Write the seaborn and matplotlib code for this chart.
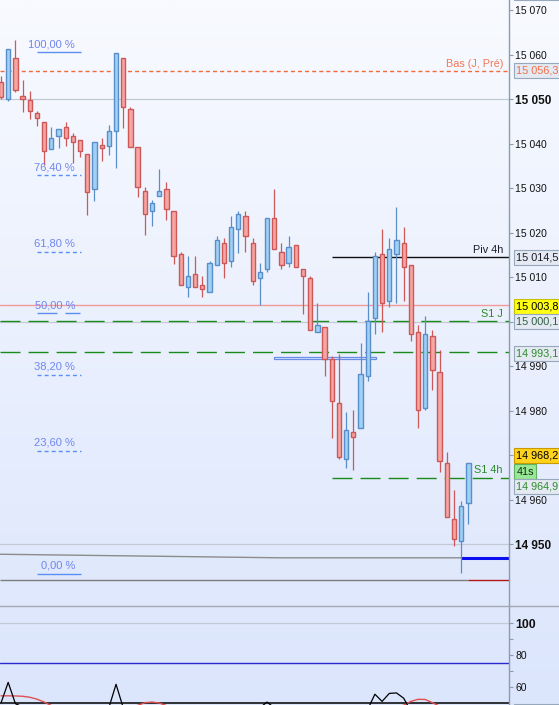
import numpy as np
import pandas as pd
import matplotlib
matplotlib.use("Agg")
import matplotlib.pyplot as plt
import matplotlib.transforms as mtrans
from matplotlib.patches import Rectangle
from matplotlib.lines import Line2D
import seaborn as sns

# ---------------- data ----------------
opens = [15053.8, 15050.0, 15059.2, 15050.7, 15049.8, 15046.9, 15044.8, 15038.8, 15041.7, 15043.7,
         15041.7, 15040.8, 15037.6, 15029.8, 15039.7, 15039.4, 15042.8, 15059.2, 15047.8, 15039.2,
         15029.3, 15024.8, 15028.2, 15029.8, 15024.8, 15015.2, 15007.8, 15010.7, 15008.2, 15006.6,
         15012.7, 15017.6, 15013.6, 15020.8, 15023.7, 15017.6, 15009.8, 15011.8, 15023.3, 15015.6,
         15013.1, 15017.2, 15011.8, 15009.8, 14997.6, 14998.8, 14991.6, 14981.7, 14969.1, 14975.2,
         14976.1, 14987.8, 15000.8, 15015.2, 15004.6, 15015.2, 15017.6, 15012.7, 14997.6, 14980.6,
         14996.7, 14988.7, 14968.2, 14955.6, 14950.7, 14959.2]
closes = [15050.4, 15061.2, 15052.0, 15050.0, 15047.3, 15045.7, 15038.3, 15041.2, 15043.3, 15041.2,
          15040.3, 15038.3, 15029.1, 15040.3, 15039.0, 15042.8, 15060.3, 15048.2, 15039.2, 15030.2,
          15024.2, 15026.6, 15029.3, 15025.3, 15014.7, 15008.2, 15010.2, 15007.8, 15007.3, 15013.1,
          15018.3, 15013.1, 15021.2, 15024.2, 15019.2, 15009.1, 15011.1, 15023.3, 15016.3, 15012.7,
          15016.7, 15012.3, 15010.2, 14998.1, 14999.2, 14991.6, 14982.1, 14969.6, 14975.6, 14974.0,
          14988.2, 15000.1, 15014.7, 15004.2, 15016.3, 15018.3, 15012.3, 14997.2, 14980.1, 14997.2,
          14989.1, 14968.7, 14956.1, 14951.1, 14958.5, 14968.2]
highs = [15055.2, 15061.3, 15063.3, 15054.3, 15051.8, 15047.3, 15044.8, 15043.7, 15043.3, 15044.8,
         15042.4, 15040.8, 15037.6, 15040.3, 15041.2, 15044.2, 15060.3, 15059.2, 15048.2, 15039.2,
         15030.2, 15027.3, 15034.3, 15031.3, 15024.8, 15015.6, 15014.7, 15014.7, 15010.2, 15013.6,
         15019.2, 15018.8, 15023.7, 15024.8, 15024.8, 15018.8, 15013.1, 15023.3, 15029.8, 15017.6,
         15019.2, 15017.2, 15011.8, 15010.2, 15004.2, 14998.8, 14992.2, 14992.7, 14979.7, 14980.1,
         14995.2, 15006.6, 15015.6, 15020.8, 15018.8, 15025.7, 15021.2, 15012.7, 14999.2, 15001.2,
         14998.1, 14993.6, 14970.7, 14962.1, 14959.7, 14968.2]
lows = [15050.0, 15049.6, 15051.5, 15047.1, 15045.5, 15043.9, 15035.2, 15038.8, 15039.0, 15039.4,
        15035.6, 15037.0, 15023.9, 15027.1, 15036.1, 15037.4, 15034.5, 15043.5, 15039.2, 15028.0,
        15019.4, 15021.5, 15028.2, 15022.8, 15012.9, 15008.2, 15005.5, 15007.8, 15005.5, 15006.6,
        15012.7, 15009.8, 15012.3, 15015.4, 15015.6, 15008.2, 15003.7, 15011.1, 15016.3, 15011.8,
        15012.3, 15012.3, 15001.7, 14998.1, 14997.6, 14987.8, 14973.8, 14969.1, 14967.1, 14966.6,
        14976.1, 14986.6, 14997.2, 14997.6, 15003.3, 15004.2, 15004.6, 14995.6, 14976.1, 14980.1,
        14984.6, 14966.2, 14956.1, 14949.6, 14943.5, 14954.5]

osc_k = [50.0, 62.9, 49.6, 47.5, 44.0, 40.0, 35.0, 33.0, 36.0, 38.0,
         37.0, 35.0, 30.0, 38.0, 42.0, 47.0, 61.7, 47.0, 40.0, 32.0,
         28.0, 30.0, 33.0, 31.0, 25.0, 22.0, 24.0, 26.0, 25.0, 30.0,
         36.0, 38.0, 42.0, 45.0, 46.0, 44.0, 47.0, 50.6, 47.0, 43.0,
         44.0, 42.0, 38.0, 32.0, 30.0, 26.0, 20.0, 15.0, 18.0, 19.0,
         28.0, 46.0, 55.5, 51.0, 56.0, 56.3, 53.0, 45.0, 38.0, 42.0,
         36.0, 26.0, 18.0, 14.0, 20.0, 30.0]
osc_d = [54.5, 54.5, 54.4, 54.2, 53.6, 52.4, 50.6, 48.4, 46.0, 43.5,
         41.0, 40.0, 39.0, 38.5, 40.0, 42.0, 44.5, 46.5, 47.5, 48.5,
         50.2, 50.6, 50.0, 48.4, 45.0, 41.0, 37.0, 33.0, 30.0, 28.5,
         29.0, 31.0, 34.0, 37.0, 40.0, 42.0, 43.5, 45.0, 46.0, 46.0,
         45.0, 44.0, 42.0, 39.0, 35.0, 31.0, 27.0, 23.0, 20.0, 19.0,
         21.0, 27.0, 34.0, 40.0, 45.0, 47.5, 48.6, 51.0, 52.3, 52.2,
         50.2, 48.0, 44.0, 38.0, 31.0, 26.0]

price_ticks = [15070, 15060, 15050, 15040, 15030, 15020, 15010, 15000, 14990, 14980, 14970, 14960, 14950]
hidden_tick_labels = [15000, 14970]   # covered by value boxes in the reference
bold_ticks = [15050, 15000, 14950]
osc_ticks = [60, 70, 80, 90, 100]
osc_tick_labels = ["60", "", "80", "", "100"]

fib_pcts = [100.0, 76.4, 61.8, 50.0, 38.2, 23.6, 0.0]
fib_labels = ["100,00 %", "76,40 %", "61,80 %", "50,00 %", "38,20 %", "23,60 %", "0,00 %"]
fib_high = 15060.5
fib_low = 14943.3

bas_j_pre = 15056.3
piv_4h = 15014.5
level_pink = 15003.8
s1_j = 15000.1
level_green2 = 14993.1
s1_4h = 14964.9
last_price = 14968.2
blue_level = 14946.9
red_level = 14941.9
trend_x = [-0.14, 38.8, 63.98]
trend_y = [14947.7, 14946.9, 14946.9]
zone_x = [38.0, 52.2]
zone_y = [14991.5, 14991.95]
osc_levels = [100, 75, 50]
countdown = "41s"

# ---------------- style ----------------
sns.set_theme(style="white")
plt.rcParams['font.family'] = ['Liberation Sans', 'DejaVu Sans']
plt.rcParams['lines.scale_dashes'] = False

W, H = 559, 705
fig = plt.figure(figsize=(W / 100, H / 100), dpi=100)

# background gradient
bg = fig.add_axes([0, 0, 1, 1], zorder=-10)
top = np.array([248, 250, 255]) / 255
bot = np.array([219, 229, 252]) / 255
t = np.linspace(0, 1, 256)[:, None]
grad = (top[None, :] * (1 - t) + bot[None, :] * t)[:, None, :]
bg.imshow(grad, extent=[0, 1, 0, 1], aspect='auto', origin='upper')
bg.axis('off')

XR = 509
main_bottom = 606
ax = fig.add_axes([0, 1 - main_bottom / H, XR / W, main_bottom / H])
ax2 = fig.add_axes([0, 0, XR / W, (H - main_bottom) / H])
for a in (ax, ax2):
    a.patch.set_alpha(0)
    for s in ('top', 'left', 'bottom'):
        a.spines[s].set_visible(False)
    a.spines['right'].set_color('#8c9cb0')
    a.spines['right'].set_linewidth(1.0)
    a.set_xticks([])
    a.yaxis.tick_right()
    a.tick_params(axis='y', direction='out', length=2.6, width=0.8, colors='#8c9cb0',
                  labelcolor='#111111', labelsize=7.5, pad=2)

xlim = (-0.139, 70.65)
ax.set_xlim(*xlim)
ax.set_ylim(14936.07, 15072.25)
ax2.set_xlim(*xlim)
ax2.set_ylim(48.75, 110.625)

# gridlines
for g in bold_ticks:
    ax.axhline(g, color='#c3c9d5', lw=0.9, zorder=1)

# candles
idx = np.arange(len(opens))
o = np.array(opens); c = np.array(closes); h = np.array(highs); l = np.array(lows)
up = c >= o
fill = np.where(up, '#9fd0f6', '#f6a5a2')
edge = np.where(up, '#5a8ec8', '#cc5858')
ax.vlines(idx, l, h, colors=edge, lw=0.9, zorder=3)
body_bottom = np.minimum(o, c)
body_h = np.maximum(np.abs(c - o), 0.35)
ax.bar(idx, body_h, bottom=body_bottom, width=0.6, color=fill, edgecolor=edge, linewidth=1.0, zorder=4)

# horizontal levels
ax.axhline(bas_j_pre, color='#f06a3a', lw=1.0, ls=(0, (2.9, 2.2)), zorder=2)
ax.hlines(piv_4h, 46.0, xlim[1], color='#101010', lw=1.0, zorder=2)
ax.axhline(level_pink, color='#f29a9a', lw=1.0, zorder=2)
ax.axhline(s1_j, color='#1a8a1a', lw=1.0, ls=(0, (14.4, 5.8)), zorder=2)
ax.axhline(level_green2, color='#1a8a1a', lw=1.0, ls=(0, (14.4, 5.8)), zorder=2)
ax.hlines(s1_4h, 46.0, xlim[1], color='#1a8a1a', lw=1.0, linestyles=[(0, (14.4, 5.8))], zorder=2)
ax.plot(trend_x, trend_y, color='#8c8c8c', lw=1.0, zorder=2)
ax.hlines(blue_level, trend_x[-1], xlim[1], color='#0a10f0', lw=2.2, zorder=2)
ax.hlines(red_level, xlim[0], 64.95, color='#7c7c7c', lw=1.0, zorder=2)
ax.hlines(red_level, 64.95, xlim[1], color='#b01818', lw=1.0, zorder=2)
ax.add_patch(Rectangle((zone_x[0], zone_y[0]), zone_x[1] - zone_x[0], zone_y[1] - zone_y[0],
                       fc='#dfe8ff', ec='#6a8ee8', lw=0.9, zorder=2))

# fibonacci labels
fib_color = '#6f86ee'
for pct, lab in zip(fib_pcts, fib_labels):
    p = fib_low + pct / 100.0 * (fib_high - fib_low)
    if pct in (100.0, 0.0):
        ax.hlines(p, 5.0, 11.08, color='#5b8ff2', lw=1.0, zorder=2)
    elif pct == 50.0:
        ax.hlines(p, 5.0, 7.75, color='#5b8ff2', lw=1.0, zorder=2)
        ax.hlines(p, 8.9, 11.0, color='#5b8ff2', lw=1.0, zorder=2)
    else:
        ax.hlines(p, 5.0, 11.08, color='#5b8ff2', lw=1.0, linestyles=[(0, (2.9, 2.2))], zorder=2)
    ax.annotate(lab, (10.3, p), xytext=(0, 5.8), textcoords='offset points',
                ha='right', va='center', fontsize=8, color=fib_color, zorder=5)

# level texts on the right of the plot
blend = mtrans.blended_transform_factory(ax.transAxes, ax.transData)
for txt, p, col in [("Bas (J, Pré)", bas_j_pre, '#f07858'), ("Piv 4h", piv_4h, '#1c1c2c'),
                    ("S1 J", s1_j, '#2a8a2a'), ("S1 4h", s1_4h, '#2a8a2a')]:
    ax.annotate(txt, (503 / XR, p), xycoords=blend, xytext=(0, 5.2), textcoords='offset points',
                ha='right', va='center', fontsize=7.8, color=col, zorder=5)

# y tick labels
ax.set_yticks(price_ticks)
ax.set_yticklabels(["" if v in hidden_tick_labels else f"{v:,}".replace(",", " ") for v in price_ticks])
for v, lab in zip(price_ticks, ax.get_yticklabels()):
    if v in bold_ticks:
        lab.set_fontweight('bold')
        lab.set_fontsize(8.5)

# oscillator panel
osc = pd.DataFrame({'i': idx, 'k': osc_k, 'd': osc_d})
ax2.axhline(osc_levels[0], color='#c3c9d5', lw=0.9, zorder=1)
ax2.axhline(osc_levels[1], color='#2a2ad0', lw=1.0, zorder=1)
ax2.axhline(osc_levels[2], color='#000000', lw=1.1, zorder=1)
sns.lineplot(data=osc, x='i', y='d', ax=ax2, color='#e05050', lw=1.0, legend=False, zorder=2)
sns.lineplot(data=osc, x='i', y='k', ax=ax2, color='#000000', lw=0.9, legend=False, zorder=3)
ax2.set_xlim(*xlim)
ax2.set_ylim(48.75, 110.625)
ax2.set_xlabel(''); ax2.set_ylabel('')
ax.set_xlabel(''); ax.set_ylabel('')
ax2.set_xticks([])
ax2.set_yticks(osc_ticks)
ax2.set_yticklabels(osc_tick_labels)
for v, lab in zip(osc_ticks, ax2.get_yticklabels()):
    if v == 100:
        lab.set_fontweight('bold')
        lab.set_fontsize(8.8)

# separator line between panels
fig.add_artist(Line2D([0, 1], [1 - main_bottom / H] * 2, transform=fig.transFigure,
                      color='#a4a8b0', lw=1.0, zorder=4))

# right axis value boxes
def axis_box(axis, price, text, fc, ec, tc, dy=0.0, x0=514, x1=562, hh=15, fs=7.8, weight='normal'):
    yc = axis.transData.transform((0, price))[1] - dy
    fig.add_artist(Rectangle((x0 / W, (yc - hh / 2) / H), (x1 - x0) / W, hh / H,
                             transform=fig.transFigure, fc=fc, ec=ec, lw=0.8, zorder=5))
    if text:
        fig.text((x0 + 2.5) / W, yc / H, text, color=tc, fontsize=fs, fontweight=weight,
                 ha='left', va='center', zorder=6)

light = '#e4e9f2'
ledge = '#98a8bc'
def fmt(p):
    return f"{p:,.1f}".replace(",", " ").replace(".", ",")

axis_box(ax, 15074.0, "", light, ledge, '#000', dy=0)
axis_box(ax, bas_j_pre, fmt(bas_j_pre), light, ledge, '#f07048')
axis_box(ax, piv_4h, fmt(piv_4h), light, ledge, '#1a1a2a', dy=1.0)
axis_box(ax, level_pink, fmt(level_pink), '#ffff14', '#c8c000', '#000000', dy=1.5)
axis_box(ax, s1_j, fmt(s1_j), light, ledge, '#2f5f3f', dy=0.3)
axis_box(ax, level_green2, fmt(level_green2), light, ledge, '#2e8b2e', dy=1.0)
axis_box(ax, last_price, fmt(last_price), '#ffd21e', '#c89a00', '#000000', dy=-7.5)
axis_box(ax, s1_4h, countdown, '#98e898', '#60b060', '#103010', dy=-6.0, x1=536)
axis_box(ax, s1_4h, fmt(s1_4h), light, ledge, '#2e8b2e', dy=9.0)
axis_box(ax2, 45.0, "", light, ledge, '#000')

fig.savefig("out.png", dpi=100)
